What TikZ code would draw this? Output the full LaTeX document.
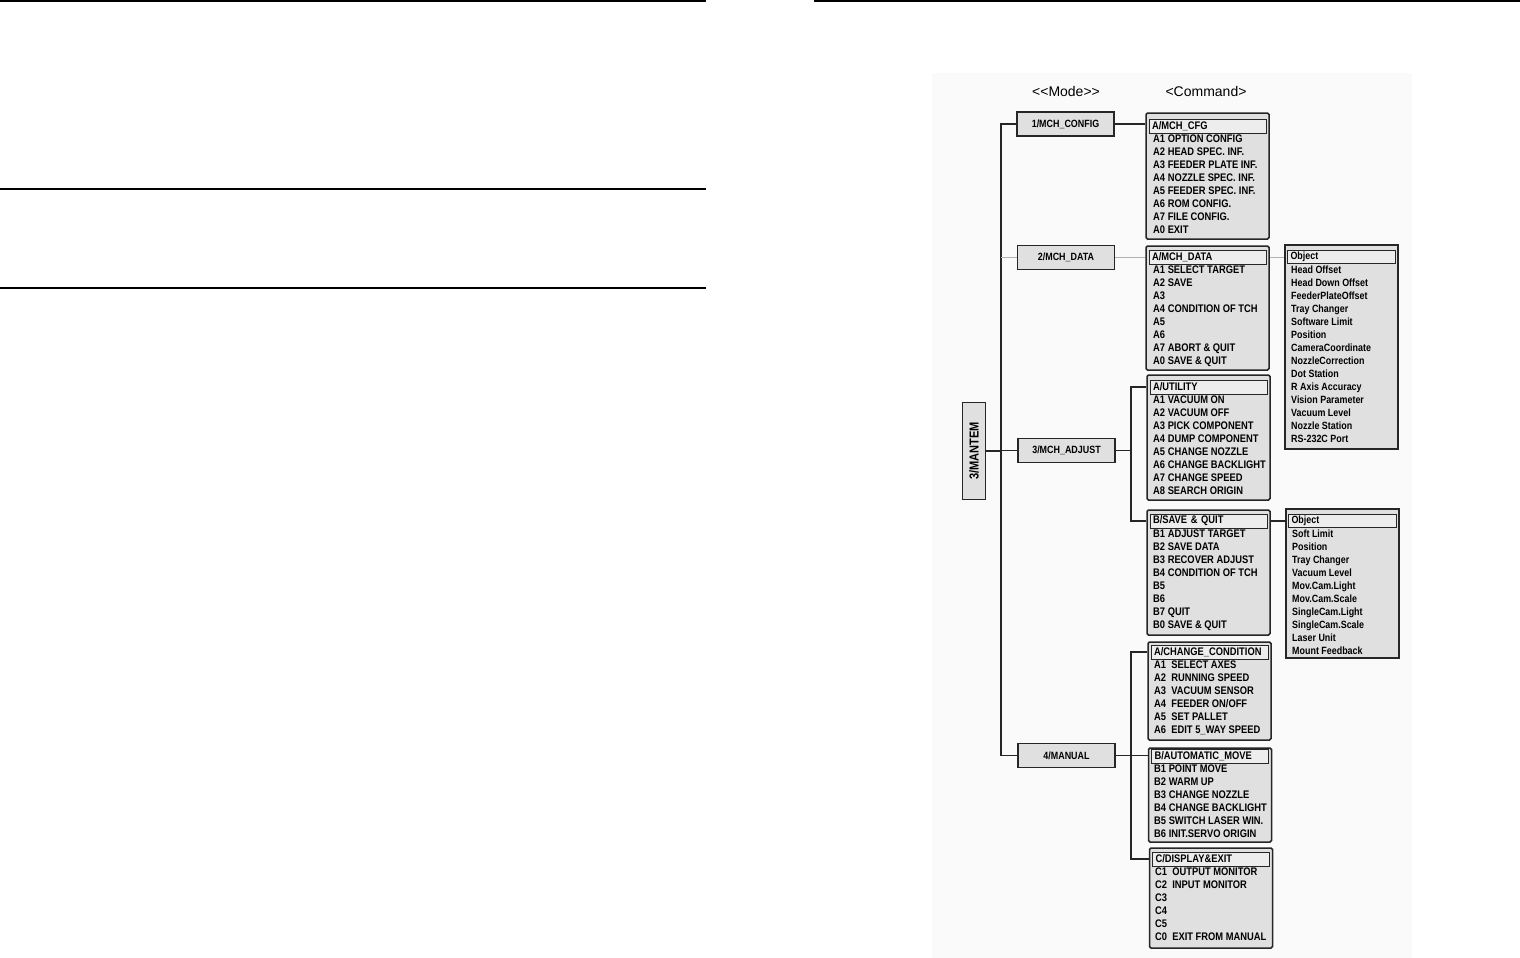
\documentclass[tikz,border=0pt]{standalone}
\usepackage{fontspec}
\setmainfont{Liberation Sans}
\newfontfamily\scanfont[FakeStretch=0.85]{Liberation Sans}
\newfontfamily\titlefont[Ligatures=TeXOff]{Liberation Sans}

\begin{document}
\begin{tikzpicture}[x=1pt,y=-1pt,
  wire/.style={draw=black!85, line width=1.4pt},
  faint/.style={draw=black!30, line width=0.8pt},
  rule/.style={draw=black, line width=1.6pt},
  title/.style={inner sep=0, font=\titlefont\fontsize{14}{16}\selectfont},
  rootbox/.style={draw=black!85, line width=1.4pt, fill=black!12, minimum width=23, minimum height=97, inner sep=0, font=\scanfont\bfseries\fontsize{13}{15}\selectfont},
  modebox/.style={draw=black!85, line width=1.4pt, fill=black!12, minimum width=97, minimum height=24, inner sep=0, font=\scanfont\bfseries\fontsize{10.5}{12}\selectfont},
  cmdbox/.style={draw=black!85, line width=1.5pt, fill=black!12, rounded corners=1.5pt, minimum width=123, inner sep=0},
  cmdhead/.style={draw=black!85, line width=0.9pt, fill=black!7, minimum height=14, text width=111, inner xsep=3, inner ysep=0, align=left, font=\scanfont\bfseries\fontsize{11}{13}\selectfont},
  cmditems/.style={anchor=north west, inner sep=0, align=left, font=\scanfont\bfseries\fontsize{11}{13}\selectfont},
  objbox/.style={draw=black!85, line width=1.4pt, fill=black!12, minimum width=113, inner sep=0},
  objhead/.style={draw=black!85, line width=0.9pt, fill=black!7, minimum height=13, text width=102, inner xsep=3, inner ysep=0, align=left, font=\scanfont\bfseries\fontsize{10.5}{13}\selectfont},
  objitems/.style={anchor=north west, inner sep=0, align=left, font=\scanfont\bfseries\fontsize{10.5}{13}\selectfont}
]
\useasboundingbox (0,0) rectangle (1520,958);

% page rules
\draw[rule] (0,1) -- (706,1);
\draw[rule] (0,189) -- (706,189);
\draw[rule] (0,288) -- (706,288);
\draw[rule] (814,1) -- (1520,1);

% scanned area
\fill[black!2] (932,73) rectangle (1412,958);

% column titles
\node[title] (modet) at (1066,91) {<<Mode>>};
\node[title] (cmdt) at (1206,91) {<Command>};

% root and modes
\node[rootbox] (root) at (974,451) {\rotatebox{90}{3/MANTEM}};
\node[modebox] (m1) at (1065.5,124) {1/MCH\_CONFIG};
\node[modebox] (m2) at (1066,257.5) {2/MCH\_DATA};
\node[modebox] (m3) at (1066.5,450.5) {3/MCH\_ADJUST};
\node[modebox] (m4) at (1066.5,755.5) {4/MANUAL};

% command menus
\node[cmdbox, minimum height=126] (cfg) at (1207.5,176) {};
\node[cmdhead] (cfgh) at (1207.5,126) {A/MCH\_CFG};
\node[cmditems] (cfgl) at (1153,135) {A1 OPTION CONFIG\\A2 HEAD SPEC. INF.\\A3 FEEDER PLATE INF.\\A4 NOZZLE SPEC. INF.\\A5 FEEDER SPEC. INF.\\A6 ROM CONFIG.\\A7 FILE CONFIG.\\A0 EXIT};

\node[cmdbox, minimum height=124] (dat) at (1207.5,308) {};
\node[cmdhead] (dath) at (1207.5,257) {A/MCH\_DATA};
\node[cmditems] (datl) at (1153,266) {A1 SELECT TARGET\\A2 SAVE\\A3\\A4 CONDITION OF TCH\\A5\\A6\\A7 ABORT \& QUIT\\A0 SAVE \& QUIT};

\node[cmdbox, minimum height=125] (utl) at (1208.5,437.5) {};
\node[cmdhead] (utlh) at (1208.5,387) {A/UTILITY};
\node[cmditems] (utll) at (1153,396) {A1 VACUUM ON\\A2 VACUUM OFF\\A3 PICK COMPONENT\\A4 DUMP COMPONENT\\A5 CHANGE NOZZLE\\A6 CHANGE BACKLIGHT\\A7 CHANGE SPEED\\A8 SEARCH ORIGIN};

\node[cmdbox, minimum height=125] (sav) at (1208.5,572.5) {};
\node[cmdhead] (savh) at (1208.5,521) {B/SAVE \& QUIT};
\node[cmditems] (savl) at (1153,530) {B1 ADJUST TARGET\\B2 SAVE DATA\\B3 RECOVER ADJUST\\B4 CONDITION OF TCH\\B5\\B6\\B7 QUIT\\B0 SAVE \& QUIT};

\node[cmdbox, minimum height=98] (chg) at (1209.5,691) {};
\node[cmdhead] (chgh) at (1209.5,652) {A/CHANGE\_CONDITION};
\node[cmditems] (chgl) at (1154,661) {A1~ SELECT AXES\\A2~ RUNNING SPEED\\A3~ VACUUM SENSOR\\A4~ FEEDER ON/OFF\\A5~ SET PALLET\\A6~ EDIT 5\_WAY SPEED};

\node[cmdbox, minimum height=94] (aut) at (1210,795) {};
\node[cmdhead] (auth) at (1210,756) {B/AUTOMATIC\_MOVE};
\node[cmditems] (autl) at (1154,765) {B1 POINT MOVE\\B2 WARM UP\\B3 CHANGE NOZZLE\\B4 CHANGE BACKLIGHT\\B5 SWITCH LASER WIN.\\B6 INIT.SERVO ORIGIN};

\node[cmdbox, minimum height=100] (dsp) at (1211,898) {};
\node[cmdhead] (dsph) at (1211,859) {C/DISPLAY\&EXIT};
\node[cmditems] (dspl) at (1155,868) {C1~ OUTPUT MONITOR\\C2~ INPUT MONITOR\\C3\\C4\\C5\\C0~ EXIT FROM MANUAL};

% object lists
\node[objbox, minimum height=204] (obj1) at (1341.5,347) {};
\node[objhead] (obj1h) at (1341.5,257) {Object};
\node[objitems] (obj1l) at (1291,266) {Head Offset\\Head Down Offset\\FeederPlateOffset\\Tray Changer\\Software Limit\\Position\\CameraCoordinate\\NozzleCorrection\\Dot Station\\R Axis Accuracy\\Vision Parameter\\Vacuum Level\\Nozzle Station\\RS-232C Port};

\node[objbox, minimum height=149] (obj2) at (1342.5,583.5) {};
\node[objhead] (obj2h) at (1342.5,521) {Object};
\node[objitems] (obj2l) at (1292,530) {Soft Limit\\Position\\Tray Changer\\Vacuum Level\\Mov.Cam.Light\\Mov.Cam.Scale\\SingleCam.Light\\SingleCam.Scale\\Laser Unit\\Mount Feedback};

% connectors
\coordinate (trunk) at (1001,451);
\coordinate (fork3) at (1131,451);
\coordinate (fork4) at (1131,756);
\draw[wire] (root.east) -- (trunk);
\draw[wire] (m1.west) -- (m1.west -| trunk) -- (m4.west -| trunk) -- (m4.west);
\draw[wire] (m3.west) -- (m3.west -| trunk);
\draw[faint] (m2.west) -- (m2.west -| trunk);
\draw[wire] (m1.east) -- (m1.east -| cfg.west);
\draw[faint] (m2.east) -- (m2.east -| dat.west);
\draw[wire] (m3.east) -- (m3.east -| fork3);
\draw[wire] (utlh.west -| utl.west) -- (utlh.west -| fork3) -- (savh.west -| fork3) -- (savh.west -| sav.west);
\draw[wire] (m4.east) -- (m4.east -| aut.west);
\draw[wire] (chgh.west -| chg.west) -- (chgh.west -| fork4) -- (dsph.west -| fork4) -- (dsph.west -| dsp.west);
\draw[faint] (dath.east -| dat.east) -- (dath.east -| obj1.west);
\draw[wire] (savh.east -| sav.east) -- (savh.east -| obj2.west);
\end{tikzpicture}
\end{document}
